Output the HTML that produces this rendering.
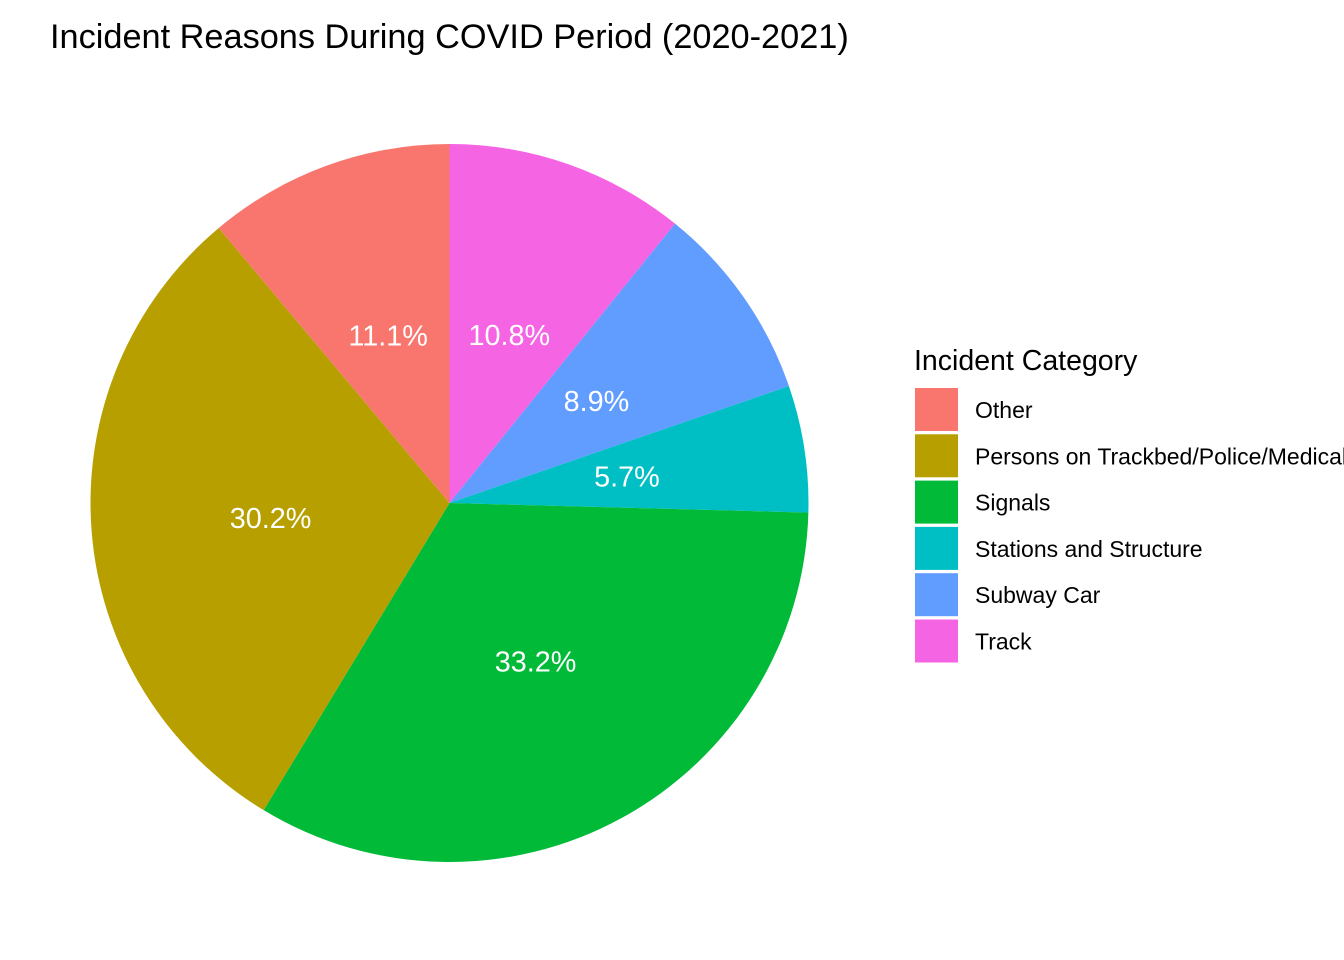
<!DOCTYPE html>
<html><head><meta charset="utf-8"><style>
html,body{margin:0;padding:0;background:#fff;}
svg{display:block;font-family:"Liberation Sans",Arial,sans-serif;}
</style></head><body>
<svg id="chart" width="1344" height="960">
<text x="50" y="48" font-size="34.3" fill="#000">Incident Reasons During COVID Period (2020-2021)</text>
<g id="slices"></g>
<g id="labels"></g>
<g id="legend"><text x="914" y="370" font-size="28.5" fill="#000">Incident Category</text></g>
</svg>
<script>
const categories = ["Other","Persons on Trackbed/Police/Medical","Signals","Stations and Structure","Subway Car","Track"];
const shares = [11.1, 30.2, 33.2, 5.7, 8.9, 10.8];
const colors = ["#F8766D","#B79F00","#00BA38","#00BFC4","#619CFF","#F564E3"];
const ns="http://www.w3.org/2000/svg";
const cx=449.5, cy=503, R=359;
const total=shares.reduce((a,b)=>a+b,0);
function pt(frac,r){const a=frac*2*Math.PI;return [cx+r*Math.sin(a),cy-r*Math.cos(a)];}
const sg=document.getElementById('slices'), lg=document.getElementById('labels'), leg=document.getElementById('legend');
let acc=0;
for(let i=categories.length-1;i>=0;i--){
  const f0=acc/total, f1=(acc+shares[i])/total; acc+=shares[i];
  const [x0,y0]=pt(f0,R),[x1,y1]=pt(f1,R);
  const p=document.createElementNS(ns,'path');
  p.setAttribute('d',`M${cx},${cy}L${x0},${y0}A${R},${R} 0 ${f1-f0>0.5?1:0} 1 ${x1},${y1}Z`);
  p.setAttribute('fill',colors[i]);
  
  
  sg.appendChild(p);
  const [lx,ly]=pt((f0+f1)/2,R*0.5);
  const t=document.createElementNS(ns,'text');
  t.setAttribute('x',lx);t.setAttribute('y',ly+11);
  t.setAttribute('text-anchor','middle');t.setAttribute('font-size','28.8');t.setAttribute('fill','#fff');
  t.textContent=shares[i].toFixed(1)+'%';
  
  
  lg.appendChild(t);
}
categories.forEach((c,i)=>{
  const y=388+i*46.3;
  const r=document.createElementNS(ns,'rect');
  r.setAttribute('x',915);r.setAttribute('y',y);r.setAttribute('width',43);r.setAttribute('height',43);r.setAttribute('fill',colors[i]);
  
  
  leg.appendChild(r);
  const t=document.createElementNS(ns,'text');
  t.setAttribute('x',975);t.setAttribute('y',y+30);t.setAttribute('font-size','23');t.setAttribute('fill','#000');
  t.textContent=c;
  
  
  leg.appendChild(t);
});
</script>
</body></html>
